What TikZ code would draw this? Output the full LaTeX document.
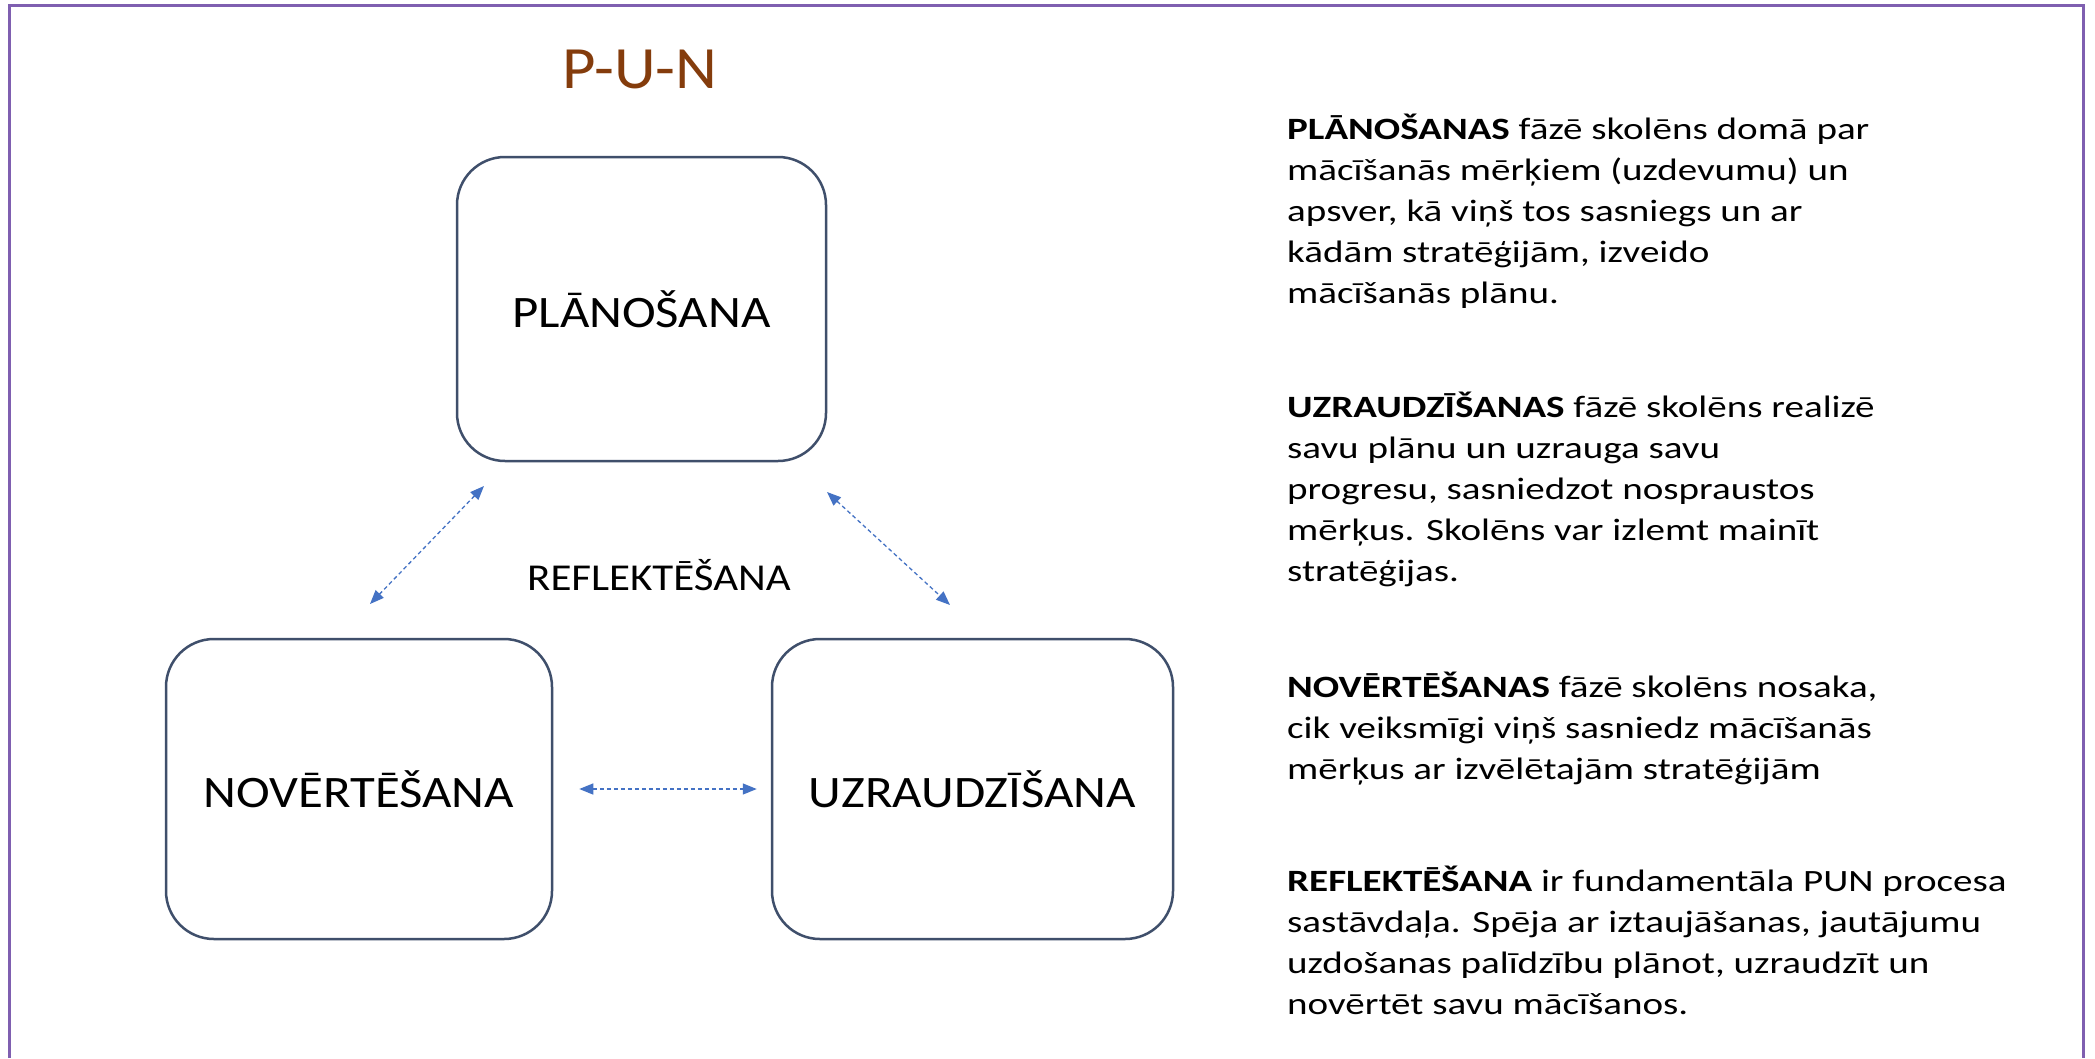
\documentclass[tikz,border=0pt]{standalone}
\usepackage{fontspec}
\setmainfont{Carlito}[FakeStretch=1.08]
\newfontfamily\ttlfont{Carlito}[FakeStretch=1.08]
\newfontfamily\lblfont{Carlito}[FakeStretch=1.13]
\newfontfamily\bodyfont{Carlito}[FakeStretch=1.26]
\usetikzlibrary{arrows.meta}
\definecolor{framec}{HTML}{7F5FB0}
\definecolor{boxc}{HTML}{3F4F6B}
\definecolor{arrc}{HTML}{4472C4}
\definecolor{ttlc}{HTML}{843C0C}
\begin{document}
\begin{tikzpicture}[x=1pt,y=-1pt,
  phase/.style={draw=boxc, line width=2.5pt, rounded corners=48pt, fill=white, inner sep=0pt, font=\lblfont\fontsize{45}{54}\selectfont},
  link/.style={draw=arrc, line width=1.3pt, dash pattern=on 4pt off 3pt, {Triangle[length=14pt,width=11pt,fill=arrc]}-{Triangle[length=14pt,width=11pt,fill=arrc]}},
  body/.style={anchor=base west, inner sep=0pt, font=\bodyfont\fontsize{31}{37}\selectfont}]
\useasboundingbox (0,0) rectangle (2095,1058);
\fill[white] (0,0) rectangle (2095,1058);
\draw[framec, line width=3pt] (9,1058) -- (9,5) -- (2083,5) -- (2083,1058);

\node[anchor=base, inner sep=0pt, text=ttlc, font=\ttlfont\fontsize{60}{72}\selectfont] (title) at (640,88) {P-U-N};

\node[phase, minimum width=369pt, minimum height=304pt] (plan) at (641.5,309) {PLĀNOŠANA};
\node[phase, minimum width=386pt, minimum height=300pt] (nov) at (359,789) {NOVĒRTĒŠANA};
\node[phase, minimum width=401pt, minimum height=300pt] (uzr) at (972.5,789) {UZRAUDZĪŠANA};

\node[anchor=base, inner sep=0pt, font=\lblfont\fontsize{38}{46}\selectfont] (refl) at (659,590) {REFLEKTĒŠANA};

\coordinate (la) at (484,486);
\coordinate (lb) at (370,604);
\coordinate (ra) at (827,492);
\coordinate (rb) at (950,605);
\draw[link] (la) -- (lb);
\draw[link] (ra) -- (rb);
\draw[link, shorten <=26pt, shorten >=14pt] (nov.east) -- (uzr.west);

\node[body] (p1) at (1287,139) {\textbf{PLĀNOŠANAS} fāzē skolēns domā par};
\node[body] (p2) at (1287,180) {mācīšanās mērķiem (uzdevumu) un};
\node[body] (p3) at (1287,221) {apsver, kā viņš tos sasniegs un ar};
\node[body] (p4) at (1287,262) {kādām stratēģijām, izveido};
\node[body] (p5) at (1287,303) {mācīšanās plānu.};

\node[body] (u1) at (1287,417) {\textbf{UZRAUDZĪŠANAS} fāzē skolēns realizē};
\node[body] (u2) at (1287,458) {savu plānu un uzrauga savu};
\node[body] (u3) at (1287,499) {progresu, sasniedzot nospraustos};
\node[body] (u4) at (1287,540) {mērķus. Skolēns var izlemt mainīt};
\node[body] (u5) at (1287,581) {stratēģijas.};

\node[body] (n1) at (1287,697) {\textbf{NOVĒRTĒŠANAS} fāzē skolēns nosaka,};
\node[body] (n2) at (1287,738) {cik veiksmīgi viņš sasniedz mācīšanās};
\node[body] (n3) at (1287,779) {mērķus ar izvēlētajām stratēģijām};

\node[body] (r1) at (1287,891) {\textbf{REFLEKTĒŠANA} ir fundamentāla PUN procesa};
\node[body] (r2) at (1287,932) {sastāvdaļa. Spēja ar iztaujāšanas, jautājumu};
\node[body] (r3) at (1287,973) {uzdošanas palīdzību plānot, uzraudzīt un};
\node[body] (r4) at (1287,1014) {novērtēt savu mācīšanos.};
\end{tikzpicture}
\end{document}
